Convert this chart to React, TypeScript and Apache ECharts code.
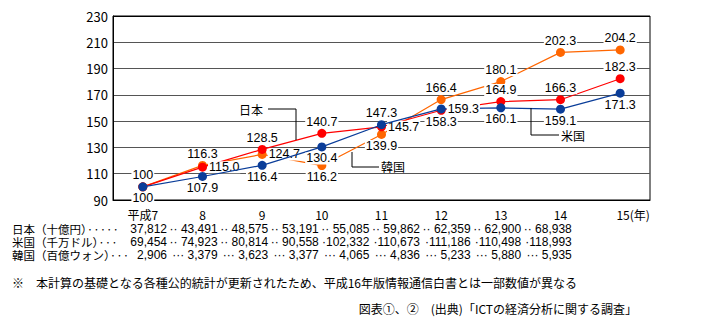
import React, { useEffect, useRef } from "react";
import * as echarts from "echarts";

const categories = ["平成7", "8", "9", "10", "11", "12", "13", "14", "15"];
const japan = [100, 115.0, 128.5, 140.7, 145.7, 158.3, 164.9, 166.3, 182.3];
const usa = [100, 107.9, 116.4, 130.4, 147.3, 159.3, 160.1, 159.1, 171.3];
const korea = [100, 116.3, 124.7, 116.2, 139.9, 166.4, 180.1, 202.3, 204.2];

const japanPos = ["top", "right", "top", "top", "right", "bottom", "top", "top", "top"];
const usaPos = ["bottom", "bottom", "bottom", "bottom", "top", "right", "bottom", "bottom", "bottom"];
const koreaPos = [null, "top", "right", "bottom", "bottom", "top", "top", "top", "top"];

const tableLabels = ["日本（十億円）", "米国（千万ドル）", "韓国（百億ウォン）"];
const tableLeadDots = ["·····", "···", "···"];
const tableJapan = ["37,812", "43,491", "48,575", "53,191", "55,085", "59,862", "62,359", "62,900", "68,938"];
const tableUsa = ["69,454", "74,923", "80,814", "90,558", "102,332", "110,673", "111,186", "110,498", "118,993"];
const tableKorea = ["2,906", "3,379", "3,623", "3,377", "4,065", "4,836", "5,233", "5,880", "5,935"];

const FONT = "'Noto Sans CJK JP', 'Noto Sans', sans-serif";
const TFONT = "'Liberation Sans', 'Noto Sans CJK JP', sans-serif";

function makeData(vals: number[], pos: (string | null)[]) {
  return vals.map((v, i) => ({
    value: v,
    label: pos[i]
      ? { show: true, position: pos[i] as any, formatter: v === 100 ? "100" : v.toFixed(1) }
      : { show: false },
  }));
}

export default function App() {
  const ref = useRef<HTMLDivElement>(null);
  useEffect(() => {
    document.body.style.margin = "0";
    const chart = echarts.init(ref.current!, null, { renderer: "svg" });
    const labelStyle = {
      color: "#000",
      fontSize: 12.5,
      lineHeight: 12,
      fontFamily: TFONT,
      backgroundColor: "#fff",
      padding: [0, 1],
      distance: 1,
    };
    const mkSeries = (name: string, vals: number[], pos: (string | null)[], color: string, z: number) => ({
      name,
      type: "line",
      data: makeData(vals, pos),
      symbol: "circle",
      symbolSize: 9,
      z,
      lineStyle: { color, width: 1.2 },
      itemStyle: { color },
      label: labelStyle,
      labelLayout: { hideOverlap: false },
    });

    const rows = [tableJapan, tableUsa, tableKorea];
    const rich: any = {
      a: { width: 115, align: "left", fontSize: 11.5, fontFamily: FONT, lineHeight: 13, color: "#000" },
      f: { width: 40, align: "right", fontSize: 12, fontFamily: TFONT, lineHeight: 13, color: "#000" },
      v: { width: 50.6, align: "right", fontSize: 12, fontFamily: TFONT, lineHeight: 13, color: "#000" },
    };
    const tableText = rows
      .map((row, r) => {
        const parts = row.map((val, i) => {
          if (i === 0) return `{f|${val}}`;
          const dots = r === 2 ? "··· " : val.length > 6 ? "·" : "·· ";
          return `{v|${dots}${val}}`;
        });
        return `{a|${tableLabels[r]}${tableLeadDots[r]}}` + parts.join("");
      })
      .join("\n");

    const lineStyle = { stroke: "#000", lineWidth: 1, fill: null };
    chart.setOption({
      animation: false,
      grid: {
        left: 113,
        top: 16,
        width: 537,
        height: 184,
        show: true,
        borderColor: "#000",
        borderWidth: 1,
        backgroundColor: "transparent",
      },
      xAxis: {
        type: "category",
        data: categories,
        boundaryGap: true,
        axisLine: { lineStyle: { color: "#000", width: 1 } },
        axisTick: { inside: true, length: 4, interval: 0, lineStyle: { color: "#000" } },
        axisLabel: {
          color: "#000",
          fontSize: 12,
          lineHeight: 12,
          fontFamily: FONT,
          margin: 8,
          interval: 0,
          formatter: (v: string) => (v === "15" ? "{y|15(年)}" : v),
          rich: { y: { padding: [0, 0, 0, 26], fontSize: 12, lineHeight: 12, fontFamily: FONT, color: "#000" } },
        },
      },
      yAxis: {
        type: "value",
        min: 90,
        max: 230,
        interval: 20,
        axisLine: { show: true, lineStyle: { color: "#000" } },
        axisTick: { show: false },
        axisLabel: { color: "#000", fontSize: 13, fontFamily: FONT, margin: 5 },
        splitLine: {
          lineStyle: {
            color: ["#000", "#555", "#555", "#555", "#555", "#555", "#555", "#000"],
            width: 1,
          },
        },
      },
      series: [
        mkSeries("韓国", korea, koreaPos, "#ff6600", 2),
        mkSeries("日本", japan, japanPos, "#ff0000", 3),
        mkSeries("米国", usa, usaPos, "#0a3d99", 4),
      ],
      graphic: [
        { type: "polyline", shape: { points: [[268, 109], [296, 109], [296, 140]] }, style: lineStyle, z: 10 },
        { type: "text", x: 263, y: 109, style: { text: "日本", font: `12px ${FONT}`, fill: "#000", align: "right", verticalAlign: "middle" }, z: 10 },
        { type: "polyline", shape: { points: [[352, 152], [352, 167], [379, 167]] }, style: lineStyle, z: 10 },
        { type: "text", x: 381, y: 166, style: { text: "韓国", font: `12px ${FONT}`, fill: "#000", verticalAlign: "middle" }, z: 10 },
        { type: "polyline", shape: { points: [[531, 108], [531, 135], [559, 135]] }, style: lineStyle, z: 10 },
        { type: "text", x: 561, y: 135, style: { text: "米国", font: `12px ${FONT}`, fill: "#000", verticalAlign: "middle" }, z: 10 },
        {
          type: "text",
          x: 12,
          y: 242,
          style: { text: tableText, rich, fill: "#000", verticalAlign: "middle" },
        },
        {
          type: "text",
          x: 12,
          y: 282,
          style: {
            text: "※　本計算の基礎となる各種公的統計が更新されたため、平成16年版情報通信白書とは一部数値が異なる",
            font: `12px ${FONT}`,
            fill: "#000",
            verticalAlign: "middle",
          },
        },
        {
          type: "text",
          x: 637,
          y: 308,
          style: {
            text: "図表①、②　(出典)「ICTの経済分析に関する調査」",
            font: `12px ${FONT}`,
            fill: "#000",
            align: "right",
            verticalAlign: "middle",
          },
        },
      ],
    });
    return () => chart.dispose();
  }, []);
  return <div ref={ref} style={{ width: 715, height: 329 }} />;
}
